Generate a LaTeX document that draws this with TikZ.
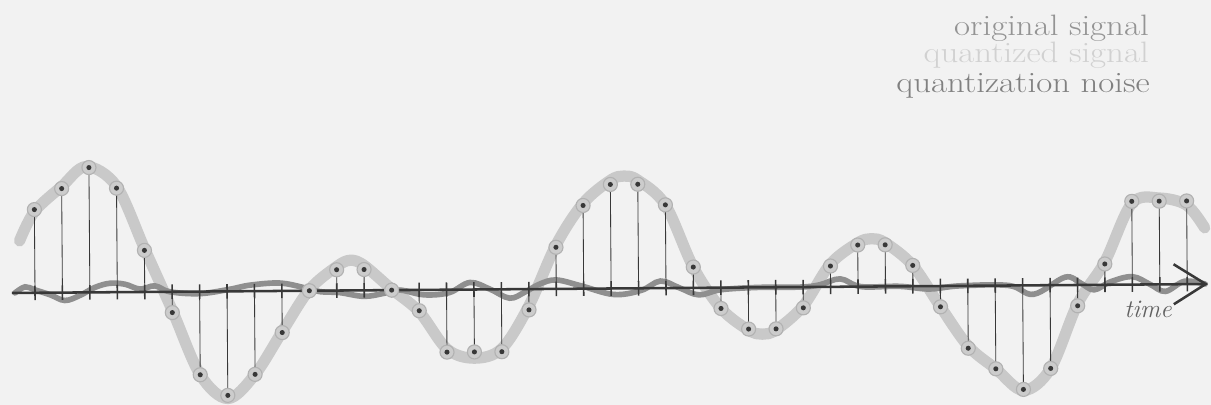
\documentclass[tikz,border=0pt]{standalone}
\usepackage{fontspec}
\usepackage{graphicx}
\usepackage{tikz}
\usetikzlibrary{arrows.meta}

\definecolor{paper}{gray}{0.95}
\definecolor{origgray}{gray}{0.79}
\definecolor{noisegray}{gray}{0.56}
\definecolor{axisgray}{gray}{0.22}

\newcommand{\widetext}[1]{\scalebox{1.18}[1]{#1}}

\tikzset{
    original/.style={line width=8pt, origgray, line cap=round, line join=round},
    noise/.style={line width=4pt, noisegray, line cap=round},
    axisline/.style={line width=1.8pt, axisgray},
    stem/.style={line width=0.6pt, axisgray},
    tickmark/.style={line width=1.1pt, axisgray},
    sample/.style={circle, inner sep=0pt, minimum size=10pt, fill=gray!40, draw=gray!60, line width=0.8pt},
    legend/.style={anchor=base east, inner sep=0pt, font=\fontsize{21}{22}\selectfont}
}

\begin{document}
\begin{tikzpicture}[x=0.025cm, y=-0.025cm]
    % Paper and frame
    \fill[paper] (0,0) rectangle (1211,405);
    \useasboundingbox (0,0) rectangle (1211,405);

    % Legend
    \node[legend, text=black!42] (origtxt) at (1149,36) {\widetext{original signal}};
    \node[legend, text=black!18] (quanttxt) at (1149,63) {\widetext{quantized signal}};
    \node[legend, text=black!50] (noisetxt) at (1150,93) {\widetext{quantization noise}};

    % Signals, one sample per unit along the time axis
    \begin{scope}[shift={(35,292.8)}, rotate=0.43, x=0.68575cm, y=0.52cm]
        % Original signal
        \draw[original] plot[smooth, tension=0.55] coordinates {
            (-0.55,2.5) (0,3.9) (1,5.1) (1.9,6.05) (3,5.1) (4,2.1) (5,-0.9) (6,-4.0)
            (7,-5.15) (8,-4.0) (9,-1.95) (10,0.05) (11,1.15) (11.5,1.45) (12,1.2)
            (13,0.05) (14,-1.05) (15,-2.85) (16,-3.3) (17,-2.85) (18,-0.8) (19,2.1)
            (20,4.1) (21,5.2) (21.5,5.4) (22,5.2) (23,4.0) (24,1.0) (25,-1.0)
            (26,-2.05) (26.5,-2.25) (27,-2.05) (28,-0.9) (29,1.1) (30,2.1) (30.5,2.3)
            (31,2.1) (32,1.0) (33,-1.0) (34,-2.9) (35,-4.0) (36,-5.05) (37,-4.0)
            (38,-0.9) (39,1.1) (40,3.9) (41,4.15) (42,3.8) (42.65,2.7)};

        % Quantization noise
        \draw[noise] plot[smooth, tension=0.6] coordinates {
            (-0.73,0) (-0.36,0.29) (0,0.14) (0.55,-0.1) (1.09,-0.38) (1.64,-0.14)
            (2.19,0.24) (2.73,0.43) (3.28,0.38) (3.83,0.14) (4.37,0.29) (4.92,0)
            (6.0,-0.1) (7.1,0.1) (7.84,0.29) (8.93,0.38) (9.84,0.14) (10.4,-0.05)
            (11.1,-0.1) (12.0,-0.29) (12.76,-0.14) (13.3,0) (14.2,-0.24) (15.1,-0.14)
            (15.86,0.34) (16.6,0) (17.3,-0.43) (17.86,-0.14) (18.4,0.24) (19.0,0.43)
            (19.9,0.14) (21.1,-0.29) (22.1,-0.1) (22.8,0.34) (23.5,0) (24.2,-0.34)
            (25.0,-0.1) (26.4,0) (27.9,0) (28.6,0.1) (29.35,0.38) (30.1,0) (31.5,0)
            (32.6,-0.14) (33.7,0) (35.5,0) (36.4,-0.43) (37.55,0.38) (38.1,0.1)
            (38.6,-0.24) (39.2,0.14) (40.0,0.38) (40.65,0) (41.2,-0.34) (41.9,0.14)
            (42.65,0)};

        % Time axis
        \coordinate (ax0) at (-0.84,0);
        \coordinate (ax1) at (42.76,0);
        \draw[axisline, -{Straight Barb[length=0.8cm, width=1.0cm, line width=1.8pt]}] (ax0) -- (ax1);

        % Quantized samples
        \foreach \q [count=\i from 0] in {4,5,6,5,2,-1,-4,-5,-4,-2,0,1,1,0,-1,-3,-3,-3,-1,2,4,5,5,4,1,-1,-2,-2,-1,1,2,2,1,-1,-3,-4,-5,-4,-1,1,4,4,4} {
            \coordinate (t\i) at (\i,0);
            \draw[tickmark] (\i,-0.35) -- (\i,0.35);
            \draw[stem] (t\i) -- (\i,\q);
            \node[sample] (s\i) at (\i,\q) {};
            \fill[axisgray] (s\i.center) circle (1.8pt);
        }
    \end{scope}

    % Axis label
    \node[text=black!62, font=\fontsize{18}{20}\selectfont\itshape] (timetxt) at (1148,309) {time};
\end{tikzpicture}
\end{document}
